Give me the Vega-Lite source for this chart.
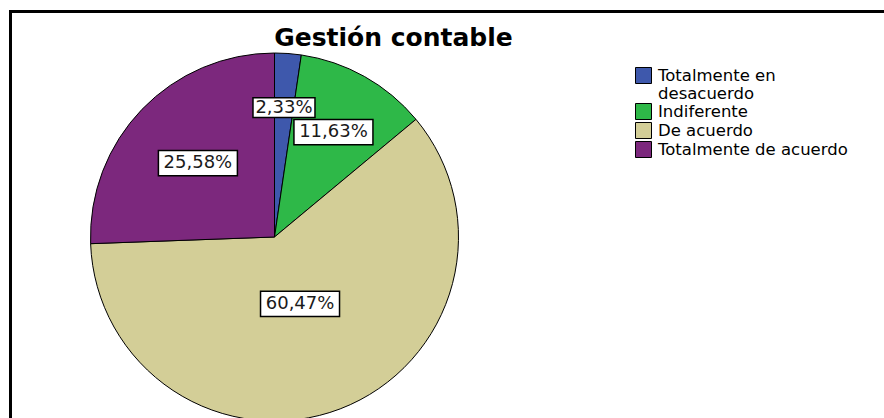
{
  "$schema": "https://vega.github.io/schema/vega-lite/v6.json",
  "padding": {"left": 6, "top": 7, "right": 0, "bottom": 0},
  "background": "white",
  "config": {"view": {"stroke": null}},
  "bounds": "flush",
  "spacing": 0,
  "vconcat": [
    {
      "width": 885,
      "height": 1,
      "view": {"stroke": "black", "strokeWidth": 2},
      "title": {"text": "Gestión contable", "orient": "bottom", "anchor": "middle", "dx": -59, "offset": 12, "font": "DejaVu Sans", "fontSize": 25, "fontWeight": "bold", "color": "black"},
      "data": {"values": [{}]},
      "mark": {"type": "point", "opacity": 0}
    },
    {
      "bounds": "flush",
      "spacing": 79.5,
      "hconcat": [
        {
          "width": 1,
          "height": 450,
          "view": {"stroke": "black", "strokeWidth": 2},
          "data": {"values": [{}]},
          "mark": {"type": "point", "opacity": 0}
        },
        {
          "width": 368,
          "height": 450,
          "data": {
            "values": [
              {"cat": "Totalmente en desacuerdo", "pct": 2.33, "idx": 1},
              {"cat": "Indiferente", "pct": 11.63, "idx": 2},
              {"cat": "De acuerdo", "pct": 60.47, "idx": 3},
              {"cat": "Totalmente de acuerdo", "pct": 25.58, "idx": 4}
            ]
          },
          "transform": [
            {"calculate": "replace(format(datum.pct, '.2f'), '.', ',') + '%'", "as": "label"},
            {"calculate": "pow(17 * length(datum.label) - 23, 2)", "as": "boxSize"},
            {"joinaggregate": [{"op": "sum", "field": "pct", "as": "total"}]},
            {"window": [{"op": "sum", "field": "pct", "as": "cum"}], "sort": [{"field": "idx", "order": "ascending"}], "frame": [null, 0]},
            {"calculate": "(datum.cum - datum.pct / 2) / datum.total * 2 * PI", "as": "mid"},
            {"calculate": "132 - datum.pct", "as": "lr"},
            {"calculate": "datum.lr * sin(datum.mid)", "as": "lx"},
            {"calculate": "datum.lr * cos(datum.mid)", "as": "ly"}
          ],
          "layer": [
            {
              "mark": {"type": "arc", "stroke": "black", "strokeWidth": 1},
              "encoding": {
                "theta": {"field": "pct", "type": "quantitative", "stack": true},
                "order": {"field": "idx", "type": "quantitative"},
                "color": {
                  "field": "cat",
                  "type": "nominal",
                  "sort": ["Totalmente en desacuerdo", "Indiferente", "De acuerdo", "Totalmente de acuerdo"],
                  "scale": {
                    "domain": ["Totalmente en desacuerdo", "Indiferente", "De acuerdo", "Totalmente de acuerdo"],
                    "range": ["#3E58AC", "#2EB848", "#D3CE97", "#7C287D"]
                  },
                  "legend": {
                    "title": null,
                    "orient": "none",
                    "legendX": 625,
                    "legendY": 56,
                    "symbolType": "square",
                    "symbolSize": 256,
                    "symbolStrokeColor": "black",
                    "symbolStrokeWidth": 1,
                    "symbolOpacity": 1,
                    "labelFont": "DejaVu Sans",
                    "labelFontSize": 16.5,
                    "labelColor": "black",
                    "labelOffset": 6,
                    "labelLimit": 400,
                    "rowPadding": -2,
                    "labelExpr": "datum.label == 'Totalmente en desacuerdo' ? ['Totalmente en', 'desacuerdo'] : datum.label"
                  }
                }
              }
            },
            {
              "mark": {"type": "point", "shape": "M-1,-0.32H1V0.32H-1Z", "filled": true, "fill": "white", "stroke": "black", "strokeWidth": 1.5, "opacity": 1},
              "encoding": {
                "x": {"field": "lx", "type": "quantitative", "scale": {"domain": [-184, 184], "nice": false, "zero": false}, "axis": null},
                "y": {"field": "ly", "type": "quantitative", "scale": {"domain": [-225, 225], "nice": false, "zero": false}, "axis": null},
                "size": {"field": "boxSize", "type": "quantitative", "scale": null}
              }
            },
            {
              "mark": {"type": "text", "font": "DejaVu Sans", "fontSize": 18, "color": "#1a1a1a"},
              "encoding": {
                "x": {"field": "lx", "type": "quantitative", "scale": {"domain": [-184, 184], "nice": false, "zero": false}, "axis": null},
                "y": {"field": "ly", "type": "quantitative", "scale": {"domain": [-225, 225], "nice": false, "zero": false}, "axis": null},
                "text": {"field": "label", "type": "nominal"}
              }
            }
          ]
        }
      ]
    }
  ]
}
